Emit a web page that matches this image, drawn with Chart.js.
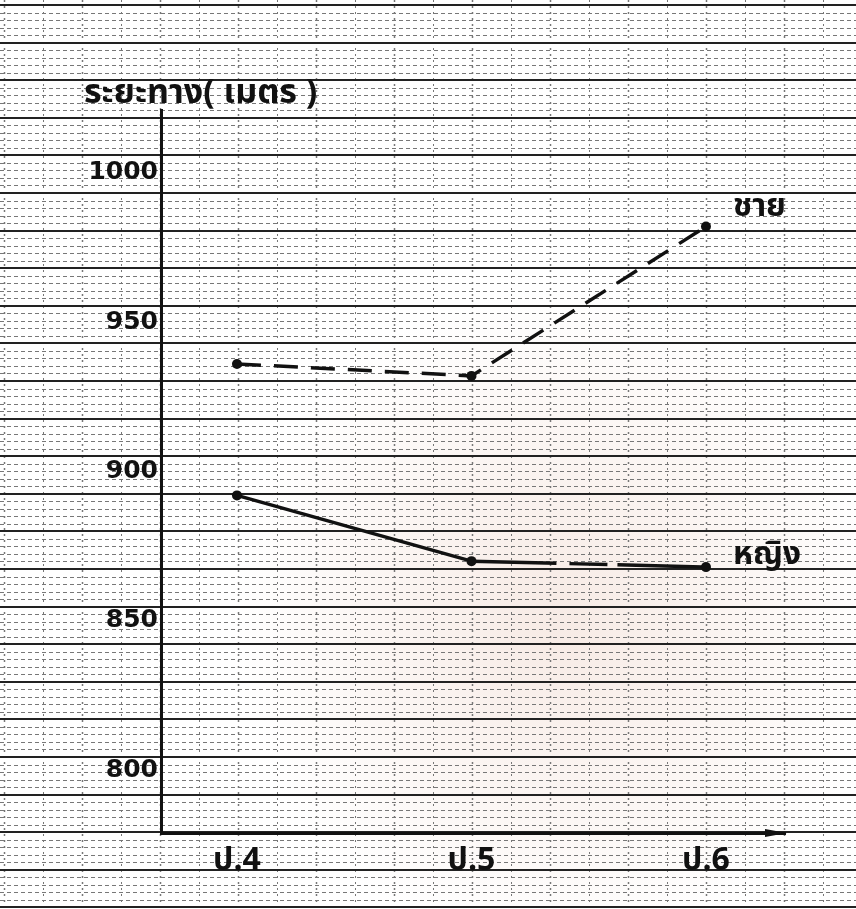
<!DOCTYPE html>
<html>
<head>
<meta charset="utf-8">
<script src="https://cdn.jsdelivr.net/npm/chart.js@4/dist/chart.umd.min.js"></script>
<style>
  html, body { margin: 0; padding: 0; background: #fff; }
  canvas { display: block; }
</style>
</head>
<body>
<canvas id="chart" width="856" height="909"></canvas>
<script>
const grades = ['ป.4', 'ป.5', 'ป.6'];
const boys = [936, 932, 982];
const girls = [892, 870, 868];
const yTicks = [800, 850, 900, 950, 1000];
const yTitle = 'ระยะทาง( เมตร )';
const boysLabel = 'ชาย';
const girlsLabel = 'หญิง';

const ink = '#111';
const thaiFont = '"Noto Sans Thai", "Noto Sans", "DejaVu Sans", sans-serif';

// graph paper behind everything
const paper = {
    id: 'paper',
    beforeDraw(chart) {
        const ctx = chart.ctx, w = chart.width, h = chart.height;
        ctx.save();
        ctx.fillStyle = '#fff';
        ctx.fillRect(0, 0, w, h);
        const g = ctx.createRadialGradient(560, 620, 20, 560, 620, 330);
        g.addColorStop(0, 'rgba(238,212,200,0.45)');
        g.addColorStop(1, 'rgba(238,212,200,0)');
        ctx.fillStyle = g;
        ctx.fillRect(0, 0, w, h);

        const major = 37.6, minor = major / 5;
        ctx.lineWidth = 1;
        ctx.strokeStyle = '#777';
        ctx.setLineDash([4, 3]);
        for (let k = 0; 5 + k * minor < h; k++) {
            if (k % 5 == 0) continue;
            const y = Math.round(5 + k * minor) + 0.5;
            ctx.beginPath(); ctx.moveTo(0, y); ctx.lineTo(w, y); ctx.stroke();
        }
        ctx.setLineDash([2, 4]);
        ctx.strokeStyle = '#777';
        for (let k = 0; 4 + k * 39 < w; k++) {
            const x = Math.round(4 + k * 39) + 0.5;
            ctx.lineWidth = k % 2 == 0 ? 1.5 : 1;
            ctx.beginPath(); ctx.moveTo(x, 0); ctx.lineTo(x, h); ctx.stroke();
        }
        ctx.setLineDash([]);
        ctx.strokeStyle = '#222';
        ctx.lineWidth = 2;
        for (let y = 5; y < h; y += major) {
            const yy = Math.round(y);
            ctx.beginPath(); ctx.moveTo(0, yy); ctx.lineTo(w, yy); ctx.stroke();
        }
        ctx.restore();
    }
};

// arrow on x axis, axis title, series names
const marks = {
    id: 'marks',
    afterDraw(chart) {
        const ctx = chart.ctx, area = chart.chartArea;
        ctx.save();
        ctx.fillStyle = ink;
        ctx.beginPath();
        ctx.moveTo(area.right - 20, area.bottom - 4);
        ctx.lineTo(area.right + 2, area.bottom);
        ctx.lineTo(area.right - 20, area.bottom + 4);
        ctx.closePath();
        ctx.fill();

        ctx.textBaseline = 'middle';
        ctx.textAlign = 'left';
        ctx.font = 'bold 34px ' + thaiFont;
        ctx.fillText(yTitle, area.left - 77, area.top - 14);

        ctx.font = 'bold 32px ' + thaiFont;
        const names = [boysLabel, girlsLabel];
        const lift = [17, 10];
        chart.data.datasets.forEach((ds, i) => {
            const pts = chart.getDatasetMeta(i).data;
            const last = pts[pts.length - 1];
            ctx.fillText(names[i], last.x + 27, last.y - lift[i]);
        });
        ctx.restore();
    }
};

function toPoints(values) {
    return values.map((v, i) => ({ x: i, y: v }));
}

const config = {
    type: 'line',
    data: {
        datasets: [{
            label: boysLabel,
            data: toPoints(boys),
            borderColor: ink,
            borderWidth: 3.5,
            borderDash: [24, 13],
            pointRadius: 5,
            pointBackgroundColor: ink,
            pointBorderWidth: 0,
            tension: 0
        }, {
            label: girlsLabel,
            data: toPoints(girls),
            borderColor: ink,
            borderWidth: 3.5,
            segment: {
                borderDash: ctx => ctx.p0DataIndex == 0 ? [] : [85, 13, 38, 10]
            },
            pointRadius: 5,
            pointBackgroundColor: ink,
            pointBorderWidth: 0,
            tension: 0
        }]
    },
    options: {
        responsive: false,
        animation: false,
        layout: { padding: { left: 0, top: 110, right: 71, bottom: 36 } },
        plugins: {
            legend: { display: false },
            tooltip: { enabled: false }
        },
        scales: {
            x: {
                type: 'linear',
                min: -0.324,
                max: 2.337,
                afterBuildTicks: s => { s.ticks = grades.map((g, i) => ({ value: i })); },
                afterFit: s => { s.height = 40; },
                grid: { display: false, drawTicks: false },
                border: { display: true, color: ink, width: 3 },
                ticks: {
                    color: ink,
                    padding: 11,
                    autoSkip: false,
                    maxRotation: 0,
                    font: { family: thaiFont, size: 32, weight: 'bold' },
                    callback: v => grades[v]
                }
            },
            y: {
                min: 779,
                max: 1021,
                afterBuildTicks: s => { s.ticks = yTicks.map(v => ({ value: v })); },
                afterFit: s => { s.width = 161; },
                grid: { display: false, drawTicks: false },
                border: { display: true, color: ink, width: 3 },
                ticks: {
                    color: ink,
                    padding: 3,
                    font: { family: '"DejaVu Sans", sans-serif', size: 25, weight: 'bold' },
                    callback: v => String(v)
                }
            }
        }
    },
    plugins: [paper, marks]
};

new Chart(document.getElementById('chart'), config);
</script>
</body>
</html>
